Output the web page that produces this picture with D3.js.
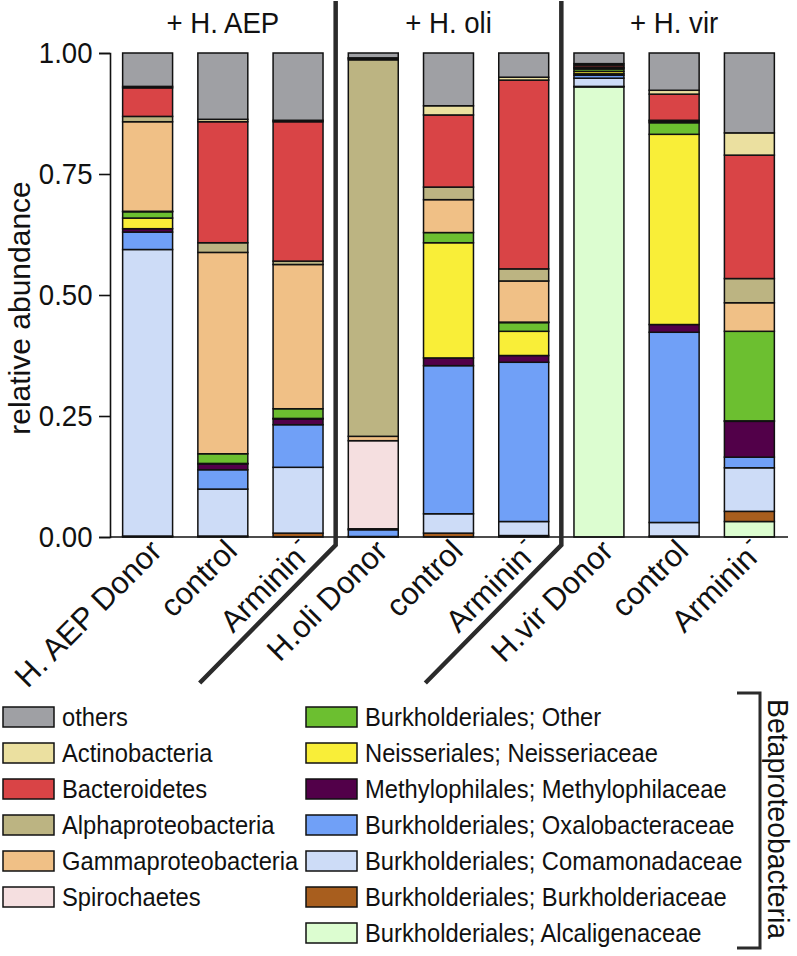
<!DOCTYPE html>
<html><head><meta charset="utf-8">
<script src="https://cdn.jsdelivr.net/npm/d3@7"></script>
<style>
body{margin:0;background:#fff}
svg{display:block}
text{font-family:"Liberation Sans",Arial,Helvetica,sans-serif;fill:#111}
</style>
</head><body><svg id="c" width="797" height="956"></svg>
<script>
// ---------- data ----------
const samples = ["aep_donor","aep_control","aep_arminin","oli_donor","oli_control","oli_arminin","vir_donor","vir_control","vir_arminin"];
const sampleLabels = ["H. AEP Donor","control","Arminin","H.oli Donor","control","Arminin","H.vir Donor","control","Arminin"];
const sampleSuper = ["","","-","","","-","","","-"];
const groupLabels = ["+ H. AEP","+ H. oli","+ H. vir"];
const groupSamples = [["aep_donor","aep_control","aep_arminin"],["oli_donor","oli_control","oli_arminin"],["vir_donor","vir_control","vir_arminin"]];
const yTicks = [0, 0.25, 0.5, 0.75, 1];

// stack order, bottom -> top
const seriesNames = [
  "Burkholderiales; Alcaligenaceae","Burkholderiales; Burkholderiaceae","Burkholderiales; Comamonadaceae",
  "Burkholderiales; Oxalobacteraceae","Methylophilales; Methylophilaceae","Neisseriales; Neisseriaceae",
  "Burkholderiales; Other","Spirochaetes","Gammaproteobacteria","Alphaproteobacteria","Bacteroidetes",
  "Actinobacteria","others"];
const seriesColors = ["#dcfdd0","#a85e1e","#cddcf7","#70a0f7","#520049","#f9ee38","#6cbf30",
  "#f5dfe0","#f0c086","#bcb482","#d94446","#ebe0a0","#9fa0a4"];

const alcaligenaceae   = [0.001,0.000,0.000,0.000,0.000,0.000,0.930,0.000,0.032];
const burkholderiaceae = [0.001,0.002,0.008,0.000,0.008,0.003,0.001,0.002,0.021];
const comamonadaceae   = [0.592,0.097,0.136,0.001,0.040,0.029,0.017,0.028,0.090];
const oxalobacteraceae = [0.036,0.040,0.088,0.014,0.306,0.329,0.006,0.393,0.022];
const methylophilaceae = [0.007,0.012,0.012,0.002,0.016,0.014,0.003,0.016,0.074];
const neisseriaceae    = [0.022,0.001,0.001,0.000,0.238,0.050,0.005,0.393,0.001];
const burkOther        = [0.013,0.020,0.020,0.000,0.021,0.018,0.005,0.024,0.185];
const spirochaetes     = [0.001,0.000,0.000,0.182,0.000,0.001,0.000,0.000,0.000];
const gammaproteo      = [0.185,0.416,0.298,0.009,0.068,0.085,0.002,0.003,0.059];
const alphaproteo      = [0.011,0.020,0.007,0.778,0.026,0.025,0.002,0.002,0.050];
const bacteroidetes    = [0.059,0.250,0.288,0.003,0.149,0.390,0.004,0.054,0.255];
const actinobacteria   = [0.003,0.005,0.003,0.001,0.019,0.006,0.003,0.008,0.046];
const others           = [0.069,0.137,0.139,0.010,0.109,0.050,0.022,0.077,0.165];
const seriesValues = [alcaligenaceae,burkholderiaceae,comamonadaceae,oxalobacteraceae,methylophilaceae,
  neisseriaceae,burkOther,spirochaetes,gammaproteo,alphaproteo,bacteroidetes,actinobacteria,others];

// ---------- chart ----------
const svg = d3.select("#c");
const COND = 0.92;
const x = d3.scaleBand().domain(samples).range([110, 787]).paddingInner(0.336).paddingOuter(0.168);
const y = d3.scaleLinear().domain([0, 1]).range([537, 53]);
const bw = x.bandwidth();

const table = samples.map((s, i) => {
  const row = {sample: s};
  seriesNames.forEach((n, j) => row[n] = seriesValues[j][i]);
  return row;
});
const stacked = d3.stack().keys(seriesNames)(table);

// bars
const layers = svg.append("g").selectAll("g").data(stacked).join("g")
  .attr("fill", (d, i) => seriesColors[i]);
layers.selectAll("rect").data(d => d.filter(p => p[1] - p[0] > 0)).join("rect")
  .attr("x", d => x(d.data.sample))
  .attr("width", bw)
  .attr("y", d => y(d[1]))
  .attr("height", d => y(d[0]) - y(d[1]))
  .attr("stroke", "#111").attr("stroke-width", 1.5);

// y axis
const yAxis = svg.append("g").attr("transform", "translate(110,0)")
  .call(d3.axisLeft(y).tickValues(yTicks).tickFormat(d3.format(".2f")).tickSize(11).tickPadding(8));
yAxis.select(".domain").attr("stroke", "#111").attr("stroke-width", 1.6);
yAxis.selectAll(".tick line").attr("stroke", "#111").attr("stroke-width", 1.6);
yAxis.selectAll(".tick text").attr("font-size", 30).attr("fill", "#111")
  .attr("font-family", '"Liberation Sans",Arial,sans-serif')
  .attr("transform", `scale(${COND},1)`);

// baseline
svg.append("line").attr("x1", 110).attr("x2", 788).attr("y1", y(0)).attr("y2", y(0))
  .attr("stroke", "#111").attr("stroke-width", 1.6);

// y label
svg.append("text").attr("transform", `translate(30,308) rotate(-90)`)
  .attr("text-anchor", "middle").attr("font-size", 30).text("relative abundance");

// x labels
samples.forEach((s, i) => {
  const t = svg.append("text")
    .attr("transform", `translate(${x(s) + bw / 2 + 16},553) rotate(-45)`)
    .attr("text-anchor", "end").attr("font-size", 31);
  t.append("tspan").text(sampleLabels[i]);
  if (sampleSuper[i]) t.append("tspan").attr("dy", "-0.6em").attr("dx", "0.08em").attr("font-size", "0.75em").text(sampleSuper[i]);
});

// group headers & separators
groupLabels.forEach((g, i) => {
  const mid = groupSamples[i][1];
  svg.append("text").attr("transform", `translate(${x(mid) + bw / 2},33) scale(${COND},1)`)
    .attr("text-anchor", "middle").attr("font-size", 30).text(g);
});
for (let i = 0; i < groupSamples.length - 1; i++) {
  const a = groupSamples[i][2], b = groupSamples[i + 1][0];
  const sx = (x(a) + bw + x(b)) / 2;
  svg.append("path").attr("d", `M${sx},1 V545 L${sx - 136},683`)
    .attr("fill", "none").attr("stroke", "#2b2b2b").attr("stroke-width", 4.5);
}

// legend
const legendOrder = seriesNames.map((n, i) => i).reverse();
legendOrder.forEach((si, k) => {
  const col = k < 6 ? 0 : 1;
  const row = col === 0 ? k : k - 6;
  const sx = col === 0 ? 3 : 306;
  const cy = 717 + row * 36;
  svg.append("rect").attr("x", sx).attr("y", cy - 10).attr("width", 51).attr("height", 20)
    .attr("fill", seriesColors[si]).attr("stroke", "#111").attr("stroke-width", 1.5);
  svg.append("text").attr("transform", `translate(${sx + 59},${cy + 9}) scale(0.95,1)`)
    .attr("font-size", 25).text(seriesNames[si]);
});

// bracket
svg.append("path").attr("d", "M737,693 H760 V948 H737").attr("fill", "none")
  .attr("stroke", "#2b2b2b").attr("stroke-width", 3);
svg.append("text").attr("transform", `translate(768,819) rotate(90) scale(0.98,1)`)
  .attr("text-anchor", "middle").attr("font-size", 29).text("Betaproteobacteria");
</script>
</body></html>
